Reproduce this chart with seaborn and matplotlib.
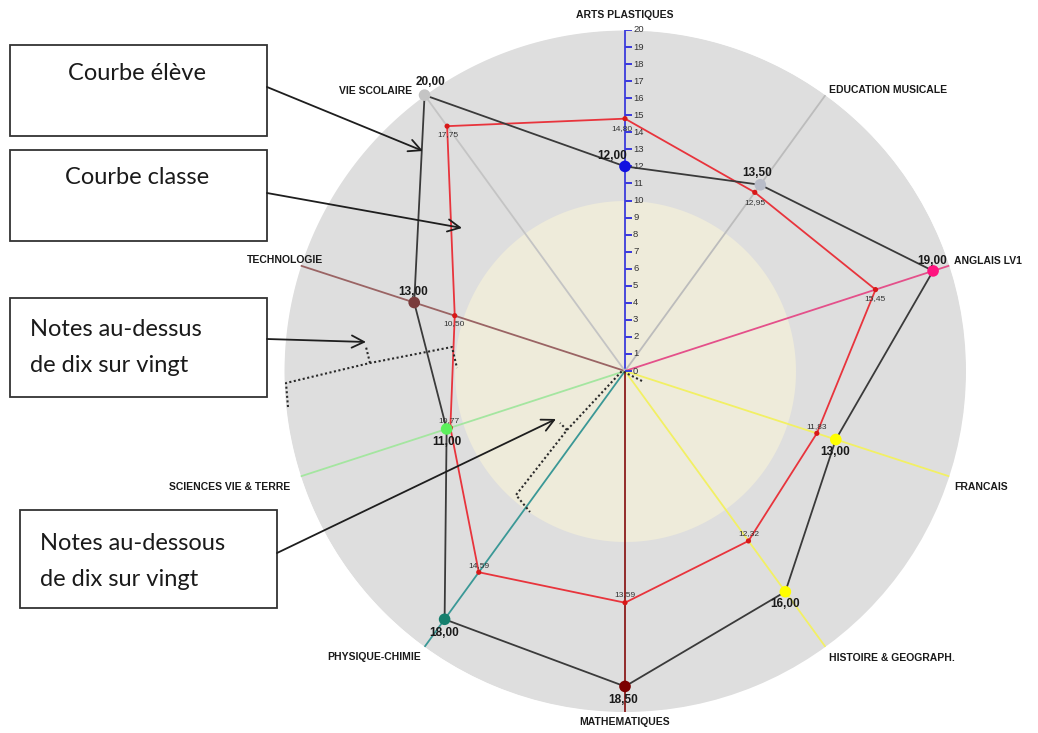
import numpy as np
import pandas as pd
import matplotlib
matplotlib.use("Agg")
import matplotlib.pyplot as plt
import seaborn as sns

# ---- data -------------------------------------------------------------
subjects = ["ARTS PLASTIQUES", "EDUCATION MUSICALE", "ANGLAIS LV1", "FRANCAIS",
            "HISTOIRE & GEOGRAPH.", "MATHEMATIQUES", "PHYSIQUE-CHIMIE",
            "SCIENCES VIE & TERRE", "TECHNOLOGIE", "VIE SCOLAIRE"]
eleve = [12.00, 13.50, 19.00, 13.00, 16.00, 18.50, 18.00, 11.00, 13.00, 20.00]
classe = [14.80, 12.95, 15.45, 11.83, 12.32, 13.59, 14.59, 10.77, 10.50, 17.75]
scale_ticks = list(range(0, 21))

# ---- styling ----------------------------------------------------------
axis_colors = ["#3c3cdc", "#bcbcbc", "#e4508a", "#f2f064", "#f2f064",
               "#8c1c1c", "#3a9896", "#a4e6a0", "#9a6464", "#c4c4c4"]
marker_colors = ["#1010e0", "#b8bcc8", "#ff1480", "#ffff00", "#ffff00",
                 "#7c0000", "#16806e", "#5cf05c", "#7a3c3c", "#c4c4c4"]
# pixel offsets of subject names from the end of each axis: (dx, dy, ha)
name_layout = [(0, 15, "center"), (4, 5, "left"), (5, 5, "left"), (5, -11, "left"),
               (4, -11, "left"), (0, -10, "center"), (-4, -10, "right"),
               (-10, -11, "right"), (22, 6, "right"), (-12, 4, "right")]
eleve_offsets = [(-13, 10), (-3, 12), (-1, 10), (-1, -13), (0, -12),
                 (-2, -14), (0, -14), (0, -13), (-1, 11), (6, 13)]
classe_offsets = [(-3, -10), (0, -10), (-1, -9), (0, 7), (0, 7),
                  (0, 8), (0, 7), (-1, 7), (-1, -8), (1, -8)]


def fr(v):
    return f"{v:.2f}".replace(".", ",")


sns.set_theme(style="white")
plt.rcParams["font.family"] = ["Liberation Sans", "DejaVu Sans"]

W, H = 1038, 733
fig = plt.figure(figsize=(W / 100, H / 100), dpi=100)
fig.patch.set_facecolor("white")

cx, cy, R = 625, 371, 341
ax = fig.add_axes([(cx - R) / W, (H - cy - R) / H, 2 * R / W, 2 * R / H],
                  projection="polar")
ax.set_theta_offset(np.pi / 2)
ax.set_theta_direction(-1)
ax.set_ylim(0, 20)
ax.set_facecolor("none")
ax.grid(False)
ax.set_xticks([])
ax.set_yticks([])
ax.spines["polar"].set_visible(False)

n = len(subjects)
theta = np.arange(n) * 2 * np.pi / n

# background discs: full scale and the 10/20 zone
ring = np.linspace(0, 2 * np.pi, 500)
ax.fill_between(ring, 0, 20, color="#dedede", zorder=0, lw=0)
ax.fill_between(ring, 0, 10, color="#eeebda", zorder=0.5, lw=0)

# radial axes
for t, c in zip(theta, axis_colors):
    ax.plot([t, t], [0, 20], color=c, lw=1.3, zorder=2)

# scale on the first axis
for k in scale_ticks:
    ax.plot([0], [k], marker=1, markersize=5, color="#3c3cdc", mew=1.2, zorder=3)
    ax.annotate(str(k), (0, k), xytext=(8, 0), textcoords="offset pixels",
                ha="left", va="center", fontsize=6.8, color="#333333", zorder=3)

# subject names
for t, name, (dx, dy, ha) in zip(theta, subjects, name_layout):
    ax.annotate(name, (t, 20), xytext=(dx, dy), textcoords="offset pixels",
                ha=ha, va="center", fontsize=7.5, fontweight="bold",
                color="#1a1a1a", annotation_clip=False, zorder=6)

# closed polygons
tc = np.append(theta, 2 * np.pi)
df_e = pd.DataFrame({"theta": tc, "note": eleve + eleve[:1]})
df_c = pd.DataFrame({"theta": tc, "note": classe + classe[:1]})
sns.lineplot(data=df_c, x="theta", y="note", sort=False, ax=ax,
             color="#e8343c", lw=1.3, zorder=4)
sns.lineplot(data=df_e, x="theta", y="note", sort=False, ax=ax,
             color="#3a3a3a", lw=1.3, zorder=4)
sns.scatterplot(x=theta, y=classe, ax=ax, color="#d81818", s=14,
                edgecolor="none", zorder=5, clip_on=False)
sns.scatterplot(x=theta, y=eleve, ax=ax, hue=np.arange(n),
                palette=marker_colors, s=70, edgecolor="none", legend=False,
                zorder=5, clip_on=False)
ax.set_xlabel("")
ax.set_ylabel("")
ax.set_ylim(0, 20)

for t, v, (dx, dy) in zip(theta, eleve, eleve_offsets):
    ax.annotate(fr(v), (t, v), xytext=(dx, dy), textcoords="offset pixels",
                ha="center", va="center", fontsize=8.5, fontweight="bold",
                color="#1a1a1a", annotation_clip=False, zorder=7)
for t, v, (dx, dy) in zip(theta, classe, classe_offsets):
    ax.annotate(fr(v), (t, v), xytext=(dx, dy), textcoords="offset pixels",
                ha="center", va="center", fontsize=6, color="#333333",
                annotation_clip=False, zorder=7)

# ---- explanatory boxes, arrows and braces -----------------------------
ov = fig.add_axes([0, 0, 1, 1], zorder=10)
ov.set_xlim(0, W)
ov.set_ylim(H, 0)
ov.axis("off")
ov.patch.set_alpha(0)

boxes = [
    ((10, 45, 257, 91), ["Courbe élève"], [(137, 74)], "center"),
    ((10, 150, 257, 91), ["Courbe classe"], [(137, 177)], "center"),
    ((10, 298, 257, 99), ["Notes au-dessus", "de dix sur vingt"],
     [(30, 329), (30, 366)], "left"),
    ((20, 510, 257, 98), ["Notes au-dessous", "de dix sur vingt"],
     [(40, 544), (40, 580)], "left"),
]
for (x0, y0, w, h), lines, pos, ha in boxes:
    ov.add_patch(plt.Rectangle((x0, y0), w, h, facecolor="white",
                               edgecolor="#333333", lw=1.3))
    for txt, (tx, ty) in zip(lines, pos):
        ov.text(tx, ty, txt, ha=ha, va="center", fontsize=17,
                family=["Lato", "DejaVu Sans"], color="#1a1a1a")

arrows = [((267, 87), (423, 151)), ((267, 193), (462, 228)),
          ((267, 339), (366, 342)), ((277, 553), (556, 419))]
for start, tip in arrows:
    ov.annotate("", xy=tip, xytext=start,
                arrowprops=dict(arrowstyle="->", color="#1e1e1e", lw=1.3,
                                mutation_scale=22, shrinkA=0, shrinkB=0))

braces = [
    [(288, 407), (286, 383), (370, 363), (452, 347), (457, 368)],
    [(370, 363), (366, 347)],
    [(642, 381), (622, 371), (567, 430), (516, 495), (530, 512)],
    [(567, 430), (560, 423)],
]
for pts in braces:
    xs, ys = zip(*pts)
    ov.plot(xs, ys, ls=(0, (1, 1.2)), color="#2a2a2a", lw=1.5)

fig.savefig("out.png", dpi=100)
